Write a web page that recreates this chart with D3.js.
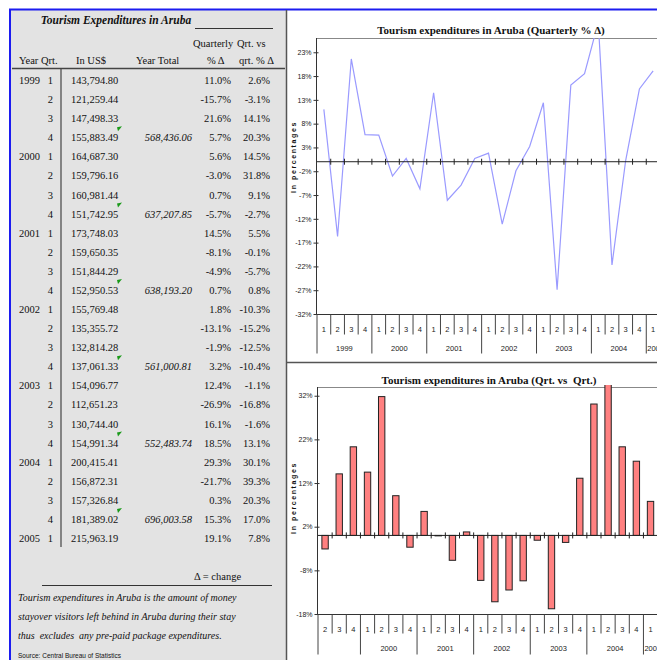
<!DOCTYPE html>
<html>
<head>
<meta charset="utf-8">
<script src="https://cdn.jsdelivr.net/npm/d3@7"></script>
<style>
  body { margin: 0; background: #fff; }
  svg { display: block; }
</style>
</head>
<body>
<svg id="chart" width="657" height="660"></svg>
<script>
// rows of the table, 1999 Q1 .. 2005 Q1
const rowYears = ['1999','1999','1999','1999','2000','2000','2000','2000','2001','2001','2001','2001',
  '2002','2002','2002','2002','2003','2003','2003','2003','2004','2004','2004','2004','2005'];
const rowQtrs = [1,2,3,4,1,2,3,4,1,2,3,4,1,2,3,4,1,2,3,4,1,2,3,4,1];
const usd = [143794.80, 121259.44, 147498.33, 155883.49, 164687.30, 159796.16, 160981.44, 151742.95,
  173748.03, 159650.35, 151844.29, 152950.53, 155769.48, 135355.72, 132814.28, 137061.33,
  154096.77, 112651.23, 130744.40, 154991.34, 200415.41, 156872.31, 157326.84, 181389.02, 215963.19];
const totalYears = ['1999','2000','2001','2002','2003','2004'];
const yearTotals = [568436.06, 637207.85, 638193.20, 561000.81, 552483.74, 696003.58];
const qtrPct = [11.0, -15.7, 21.6, 5.7, 5.6, -3.0, 0.7, -5.7, 14.5, -8.1, -4.9, 0.7,
  1.8, -13.1, -1.9, 3.2, 12.4, -26.9, 16.1, 18.5, 29.3, -21.7, 0.3, 15.3, 19.1];
const qvqPct = [2.6, -3.1, 14.1, 20.3, 14.5, 31.8, 9.1, -2.7, 5.5, -0.1, -5.7, 0.8,
  -10.3, -15.2, -12.5, -10.4, -1.1, -16.8, -1.6, 13.1, 30.1, 39.3, 20.3, 17.0, 7.8];
const topTicks = [-32, -27, -22, -17, -12, -7, -2, 3, 8, 13, 18, 23];
const barTicks = [-18, -8, 2, 12, 22, 32];

const svg = d3.select('#chart');
const serif = '"Liberation Serif", "Times New Roman", serif';
const sans = '"Liberation Sans", Arial, sans-serif';
const loc = d3.formatLocale({decimal: '.', thousands: ',', grouping: [3], currency: ['$', ''], minus: '-'});

// frame
svg.append('rect').attr('x', 11).attr('y', 10).attr('width', 275).attr('height', 650).attr('fill', '#e3e3e3');
svg.append('line').attr('x1', 9).attr('x2', 657).attr('y1', 9.5).attr('y2', 9.5).attr('stroke', '#1c1cf0').attr('stroke-width', 2);
svg.append('line').attr('x1', 10).attr('x2', 10).attr('y1', 9).attr('y2', 660).attr('stroke', '#1c1cf0').attr('stroke-width', 2);
svg.append('line').attr('x1', 286.5).attr('x2', 286.5).attr('y1', 10).attr('y2', 660).attr('stroke', '#555').attr('stroke-width', 1.5);
svg.append('line').attr('x1', 286).attr('x2', 657).attr('y1', 362.5).attr('y2', 362.5).attr('stroke', '#555').attr('stroke-width', 1.5);

/* ---------- table ---------- */
const tbl = svg.append('g').attr('font-family', serif).attr('font-size', 10.5).attr('fill', '#111');
tbl.append('text').attr('x', 116).attr('y', 24).attr('text-anchor', 'middle')
  .attr('font-size', 11.5).attr('font-weight', 'bold').attr('font-style', 'italic')
  .text('Tourism Expenditures in Aruba');
tbl.append('line').attr('x1', 195).attr('x2', 273).attr('y1', 28.5).attr('y2', 28.5).attr('stroke', '#333');
tbl.append('text').attr('x', 193).attr('y', 47).text('Quarterly');
tbl.append('text').attr('x', 237).attr('y', 47).text('Qrt. vs');
[['Year', 19], ['Qrt.', 41], ['In US$', 76], ['Year Total', 136], ['% \u0394', 207], ['qrt. % \u0394', 239]]
  .forEach(([t, x]) => tbl.append('text').attr('x', x).attr('y', 64).text(t));
tbl.append('line').attr('x1', 12).attr('x2', 285).attr('y1', 68.5).attr('y2', 68.5).attr('stroke', '#444').attr('stroke-width', 1.5);
tbl.append('line').attr('x1', 61).attr('x2', 61).attr('y1', 68).attr('y2', 547).attr('stroke', '#444').attr('stroke-width', 1.2);

const rowY = d3.scalePoint().domain(d3.range(usd.length)).range([80, 538]);
const fmtUsd = loc.format(',.2f');
const fmtPct = d => loc.format('.1f')(d) + '%';

const rows = tbl.selectAll('g.row').data(usd).join('g').attr('class', 'row')
  .attr('transform', (d, i) => `translate(0,${rowY(i) + 4})`);
rows.each(function (d, i) {
  const g = d3.select(this);
  if (rowQtrs[i] === 1) g.append('text').attr('x', 19).text(rowYears[i]);
  g.append('text').attr('x', 53).attr('text-anchor', 'end').text(rowQtrs[i]);
  g.append('text').attr('x', 71).text(fmtUsd(d));
  g.append('text').attr('x', 231).attr('text-anchor', 'end').text(fmtPct(qtrPct[i]));
  g.append('text').attr('x', 270).attr('text-anchor', 'end').text(fmtPct(qvqPct[i]));
  if (rowQtrs[i] === 4) {
    const k = totalYears.indexOf(rowYears[i]);
    g.append('text').attr('x', 192).attr('text-anchor', 'end').attr('font-style', 'italic').text(fmtUsd(yearTotals[k]));
    g.append('path').attr('d', 'M117,-14 L122,-15 L118,-10 Z').attr('fill', '#1a9a1a');
  }
});

tbl.append('text').attr('x', 194).attr('y', 580).text('\u0394 = change');
tbl.append('line').attr('x1', 42).attr('x2', 272).attr('y1', 585.5).attr('y2', 585.5).attr('stroke', '#333');
['Tourism expenditures in Aruba is the amount of money',
 'stayover visitors left behind in Aruba during their stay',
 'thus  excludes  any pre-paid package expenditures.'].forEach((t, i) => {
  tbl.append('text').attr('x', 18).attr('y', 601 + i * 19).attr('font-style', 'italic')
    .attr('font-size', 10).attr('xml:space', 'preserve').text(t);
});
tbl.append('text').attr('x', 18).attr('y', 658).attr('font-family', sans).attr('font-size', 6.5)
  .text('Source: Central Bureau of Statistics');

/* ---------- chart helpers ---------- */
function categoryAxis(g, x, yrs, qs, y0, qLen, yLen) {
  const bw = x.bandwidth();
  const ax = g.append('g').attr('font-family', sans).attr('font-size', 7.5).attr('fill', '#222');
  qs.forEach((q, i) => {
    const x0 = x(i);
    ax.append('line').attr('x1', x0).attr('x2', x0).attr('y1', y0).attr('y2', y0 + (q === 1 || i === 0 ? yLen : qLen))
      .attr('stroke', '#444');
    ax.append('text').attr('x', x0 + bw / 2).attr('y', y0 + 17).attr('text-anchor', 'middle').text(q);
  });
  const groups = d3.groups(d3.range(qs.length), i => yrs[i]);
  groups.forEach(([yr, idx]) => {
    if (qs[idx[0]] !== 1) return;
    const x0 = x(idx[0]);
    const w = bw * idx.length;
    const t = ax.append('text').attr('y', y0 + 36).text(yr);
    if (w > 20) t.attr('x', x0 + w / 2).attr('text-anchor', 'middle');
    else t.attr('x', x0 + 1);
  });
}

function valueAxis(g, y, ticks, x0) {
  const ax = g.append('g').attr('transform', `translate(${x0},0)`)
    .call(d3.axisLeft(y).tickValues(ticks).tickFormat(d => d + '%').tickSize(3).tickPadding(2));
  ax.select('.domain').remove();
  ax.selectAll('line').attr('stroke', '#333').attr('x2', -3).attr('x1', 2);
  ax.selectAll('text').attr('font-family', sans).attr('font-size', 7).attr('fill', '#222');
}

function yTitle(g, cx, cy) {
  g.append('text').attr('transform', `translate(${cx},${cy}) rotate(-90)`).attr('text-anchor', 'middle')
    .attr('font-family', sans).attr('font-size', 7).attr('font-weight', 'bold').attr('letter-spacing', 1.6)
    .attr('fill', '#111').text('In percentages');
}

function zeroLine(g, x, y, n, left) {
  const y0 = y(0);
  g.append('line').attr('x1', left).attr('x2', 657).attr('y1', y0).attr('y2', y0).attr('stroke', '#222');
  for (let i = 1; i < n; i++) {
    g.append('line').attr('x1', x(i)).attr('x2', x(i)).attr('y1', y0 - 3).attr('y2', y0 + 3).attr('stroke', '#222');
  }
}

/* ---------- top chart: quarterly % change ---------- */
const lineG = svg.append('g');
const xTop = d3.scaleBand().domain(d3.range(qtrPct.length)).range([317, 317 + 25 * 13.72]);
const yTop = d3.scaleLinear().domain([-32, 26]).range([314, 38]);

lineG.append('text').attr('x', 491).attr('y', 34).attr('text-anchor', 'middle')
  .attr('font-family', serif).attr('font-size', 11).attr('font-weight', 'bold').attr('fill', '#111')
  .text('Tourism expenditures in Aruba (Quarterly % \u0394)');

svg.append('clipPath').attr('id', 'clipTop').append('rect').attr('x', 317).attr('y', 38).attr('width', 340).attr('height', 276);
lineG.append('line').attr('x1', 317).attr('x2', 657).attr('y1', 38.5).attr('y2', 38.5).attr('stroke', '#888');
lineG.append('path').datum(qtrPct).attr('clip-path', 'url(#clipTop)')
  .attr('d', d3.line().x((d, i) => xTop(i) + xTop.bandwidth() / 2).y(d => yTop(d)))
  .attr('fill', 'none').attr('stroke', '#9a9aff').attr('stroke-width', 1.2);
zeroLine(lineG, xTop, yTop, qtrPct.length, 317);
lineG.append('line').attr('x1', 317).attr('x2', 657).attr('y1', 314.5).attr('y2', 314.5).attr('stroke', '#333');
lineG.append('line').attr('x1', 316.5).attr('x2', 316.5).attr('y1', 38).attr('y2', 314).attr('stroke', '#333');
valueAxis(lineG, yTop, topTicks, 316.5);
categoryAxis(lineG, xTop, rowYears, rowQtrs, 314.5, 20, 39);
yTitle(lineG, 296, 157);

/* ---------- bottom chart: quarter vs same quarter ---------- */
const barYears = rowYears.slice(1);
const barQtrs = rowQtrs.slice(1);
const barVals = qvqPct.slice(1);
const barG = svg.append('g');
const xBot = d3.scaleBand().domain(d3.range(barVals.length)).range([318, 318 + 24 * 14.15]);
const yBot = d3.scaleLinear().domain([-18, 34]).range([614, 387]);

barG.append('text').attr('x', 489).attr('y', 384).attr('text-anchor', 'middle')
  .attr('font-family', serif).attr('font-size', 11).attr('font-weight', 'bold').attr('fill', '#111')
  .attr('xml:space', 'preserve')
  .text('Tourism expenditures in Aruba (Qrt. vs  Qrt.)');

svg.append('clipPath').attr('id', 'clipBot').append('rect').attr('x', 318).attr('y', 385).attr('width', 340).attr('height', 229);
barG.append('line').attr('x1', 318).attr('x2', 657).attr('y1', 387.5).attr('y2', 387.5).attr('stroke', '#888');
const bw = xBot.bandwidth() * 0.45;
barG.append('g').attr('clip-path', 'url(#clipBot)').selectAll('rect').data(barVals).join('rect')
  .attr('x', (d, i) => xBot(i) + (xBot.bandwidth() - bw) / 2)
  .attr('width', bw)
  .attr('y', d => yBot(Math.max(0, d)))
  .attr('height', d => Math.abs(yBot(d) - yBot(0)))
  .attr('fill', '#ff8080').attr('stroke', '#222').attr('stroke-width', 1);
zeroLine(barG, xBot, yBot, barVals.length, 318);
barG.append('line').attr('x1', 318).attr('x2', 657).attr('y1', 614.5).attr('y2', 614.5).attr('stroke', '#333');
barG.append('line').attr('x1', 317.5).attr('x2', 317.5).attr('y1', 387).attr('y2', 614).attr('stroke', '#333');
valueAxis(barG, yBot, barTicks, 317.5);
categoryAxis(barG, xBot, barYears, barQtrs, 614.5, 19, 40);
yTitle(barG, 296, 498);
</script>
</body>
</html>
